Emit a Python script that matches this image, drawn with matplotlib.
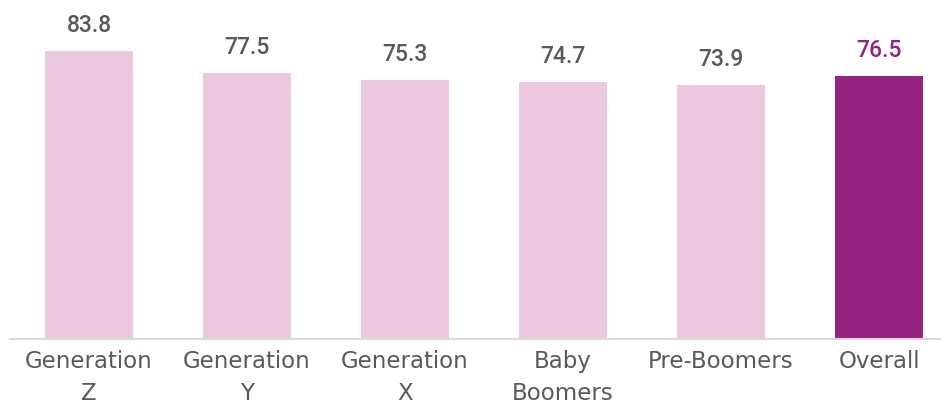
import matplotlib
matplotlib.use("Agg")
import matplotlib.pyplot as plt

categories = ["Generation\nZ", "Generation\nY", "Generation\nX", "Baby\nBoomers", "Pre-Boomers", "Overall"]
values = [83.8, 77.5, 75.3, 74.7, 73.9, 76.5]
bar_colors = ["#ECC8E0"] * 5 + ["#93237F"]
label_colors = ["#595959"] * 5 + ["#93237F"]

W, H = 941, 409
fig = plt.figure(figsize=(W / 100, H / 100), dpi=100)
ymax = 95
px_per_unit = 288 / 83.8
ax_h = ymax * px_per_unit
ax = fig.add_axes([10 / W, 70 / H, 948 / W, ax_h / H])

x = list(range(len(values)))
ax.bar(x, values, width=0.557, color=bar_colors, zorder=2)
ax.set_xlim(-0.5, len(values) - 0.5)
ax.set_ylim(0, ymax)

for xi, v, c in zip(x, values, label_colors):
    ax.annotate(f"{v:.1f}", (xi, v), xytext=(0, 10), textcoords="offset points",
                ha="center", va="bottom", fontsize=16.5, fontweight="medium",
                family="Roboto", color=c)

ax.set_xticks(x)
ax.set_xticklabels(categories, fontsize=16.5, family="DejaVu Sans", color="#595959",
                   linespacing=1.5)
ax.tick_params(axis="x", length=0, pad=8)
ax.set_yticks([])
for s in ["top", "left", "right"]:
    ax.spines[s].set_visible(False)
ax.spines["bottom"].set_color("#D9D9D9")
ax.spines["bottom"].set_linewidth(1.5)

fig.savefig("out.png", dpi=100)
